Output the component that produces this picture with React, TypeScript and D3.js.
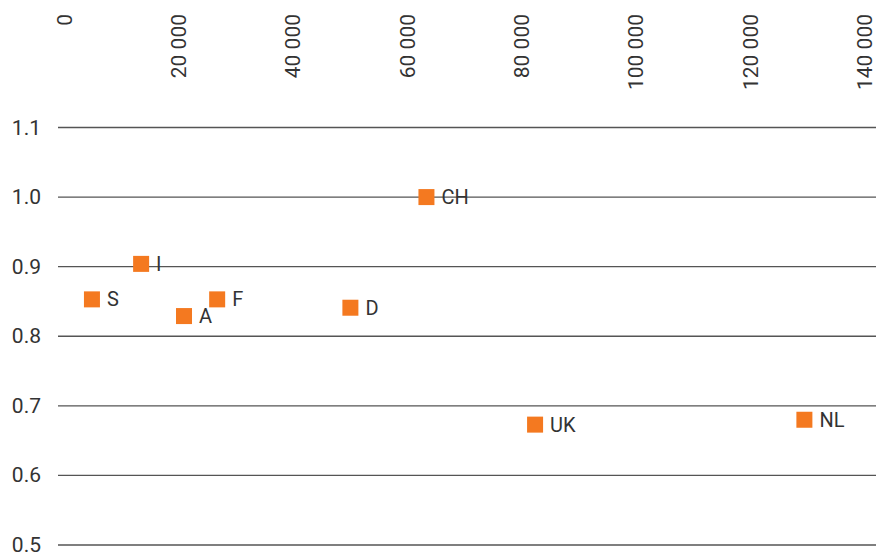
import React from "react";
import * as d3 from "d3";

const countries = ["S", "I", "A", "F", "D", "CH", "UK", "NL"];
const xValues = [4800, 13400, 20900, 26700, 50000, 63300, 82300, 129400];
const yValues = [0.853, 0.904, 0.829, 0.853, 0.841, 1.0, 0.673, 0.68];
const xTicks = [0, 20000, 40000, 60000, 80000, 100000, 120000, 140000];
const yTicks = [0.5, 0.6, 0.7, 0.8, 0.9, 1.0, 1.1];

const W = 884;
const H = 556;
const FONT = "Roboto, 'Noto Sans', sans-serif";

export default function App() {
  const x = d3.scaleLinear().domain([0, 140000]).range([64.5, 865]);
  const y = d3.scaleLinear().domain([0.5, 1.1]).range([545, 127.5]);
  const fmtX = (v: number) => d3.format(",")(v).replace(/,/g, " ");
  const fmtY = d3.format(".1f");
  const sq = 16;

  return (
    <svg
      width={W}
      height={H}
      style={{ position: "absolute", left: 0, top: 0, background: "#fff" }}
      fontFamily={FONT}
    >
      {yTicks.map((t) => (
        <g key={"y" + t}>
          <line x1={58} x2={876} y1={y(t)} y2={y(t)} stroke="#555" strokeWidth={1.4} />
          <text x={41} y={y(t)} textAnchor="end" dominantBaseline="central" fontSize={21} fill="#333">
            {fmtY(t)}
          </text>
        </g>
      ))}
      {xTicks.map((t) => (
        <text
          key={"x" + t}
          transform={`translate(${x(t)},14) rotate(-90)`}
          textAnchor="end"
          dominantBaseline="central"
          fontSize={21}
          fill="#333"
        >
          {fmtX(t)}
        </text>
      ))}
      {countries.map((c, i) => (
        <g key={c}>
          <rect
            x={x(xValues[i]) - sq / 2}
            y={y(yValues[i]) - sq / 2}
            width={sq}
            height={sq}
            fill="#f47920"
          />
          <text
            x={x(xValues[i]) + sq / 2 + 7}
            y={y(yValues[i])}
            dominantBaseline="central"
            fontSize={20}
            fill="#333"
          >
            {c}
          </text>
        </g>
      ))}
    </svg>
  );
}
